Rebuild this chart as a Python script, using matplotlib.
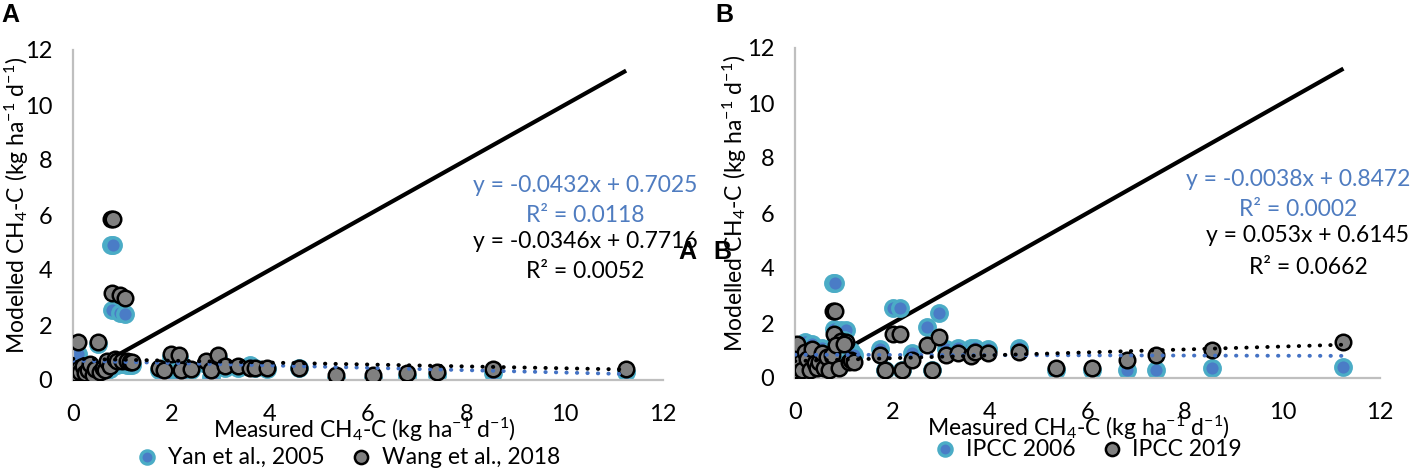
import matplotlib
matplotlib.use("Agg")
import matplotlib.pyplot as plt
import numpy as np

plt.rcParams['font.family'] = ['Lato', 'DejaVu Sans']
plt.rcParams['mathtext.fontset'] = 'custom'
plt.rcParams['mathtext.rm'] = 'Lato'
plt.rcParams['mathtext.it'] = 'Lato:italic'
plt.rcParams['mathtext.bf'] = 'Lato:bold'

# measured CH4-C (shared by both panels)
measured = [0.00, 0.03, 0.05, 0.10, 0.12, 0.15, 0.20, 0.25, 0.30, 0.35,
            0.40, 0.45, 0.50, 0.55, 0.60, 0.65, 0.70, 0.75, 0.78, 0.82,
            0.80, 0.95, 1.05, 0.85, 0.90, 1.00, 1.10, 1.15, 1.20, 1.75,
            1.85, 2.00, 2.15, 2.20, 2.40, 2.70, 2.80, 2.95, 3.10, 3.35,
            3.60, 3.70, 3.95, 4.60, 5.35, 6.10, 6.80, 7.40, 8.55, 11.25]
yan2005 = [0.25, 0.30, 0.20, 0.95, 0.35, 0.25, 0.40, 0.20, 0.30, 0.45,
           0.15, 0.30, 1.30, 0.25, 0.40, 0.30, 0.55, 0.40, 4.90, 4.90,
           2.55, 2.45, 2.40, 0.60, 0.55, 0.60, 0.55, 0.55, 0.55, 0.35,
           0.15, 0.85, 0.80, 0.15, 0.35, 0.60, 0.10, 0.80, 0.45, 0.45,
           0.55, 0.45, 0.40, 0.45, 0.05, 0.05, 0.15, 0.20, 0.25, 0.30]
wang2018 = [0.30, 0.40, 0.25, 1.40, 0.45, 0.30, 0.50, 0.25, 0.35, 0.60,
            0.20, 0.40, 1.40, 0.30, 0.45, 0.35, 0.70, 0.50, 5.85, 5.85,
            3.15, 3.10, 3.00, 0.75, 0.70, 0.70, 0.70, 0.65, 0.65, 0.45,
            0.35, 0.95, 0.90, 0.35, 0.40, 0.70, 0.35, 0.90, 0.50, 0.50,
            0.45, 0.45, 0.45, 0.45, 0.20, 0.20, 0.25, 0.30, 0.40, 0.40]
ipcc2006 = [0.20, 0.50, 0.25, 0.30, 0.80, 0.20, 1.30, 0.90, 0.30, 1.25,
            0.70, 0.35, 0.80, 1.10, 0.40, 0.90, 0.35, 1.00, 3.45, 3.45,
            1.80, 1.75, 1.75, 1.45, 0.40, 1.40, 0.65, 1.00, 0.85, 1.05,
            0.30, 2.55, 2.55, 0.30, 0.90, 1.85, 0.30, 2.35, 1.05, 1.10,
            1.10, 1.10, 1.05, 1.10, 0.30, 0.30, 0.30, 0.30, 0.36, 0.40]
ipcc2019 = [0.30, 0.75, 1.25, 0.35, 0.60, 0.30, 0.95, 0.70, 0.30, 1.05,
            0.55, 0.35, 0.60, 0.90, 0.35, 0.75, 0.30, 0.85, 2.45, 2.45,
            1.60, 1.35, 1.30, 1.20, 0.35, 1.25, 0.60, 0.65, 0.60, 0.85,
            0.30, 1.60, 1.60, 0.30, 0.65, 1.20, 0.30, 1.50, 0.85, 0.90,
            0.80, 0.95, 0.90, 0.95, 0.35, 0.35, 0.65, 0.84, 1.02, 1.30]

# trendline coefficients as printed on the chart (slope, intercept, r2)
trend_a_blue = (-0.0432, 0.7025, 0.0118)
trend_a_black = (-0.0346, 0.7716, 0.0052)
trend_b_blue = (-0.0038, 0.8472, 0.0002)
trend_b_black = (0.053, 0.6145, 0.0662)
one_to_one = [0, 11.25]

W, H = 1418, 472
BLUE_FACE = '#4a7cc6'
BLUE_EDGE = '#4bacc6'
BLUE_TXT = '#4f7cc0'
FS = 17


def px(x, y):
    return x / W, 1 - y / H


fig = plt.figure(figsize=(W / 100, H / 100), dpi=100)
ax1 = fig.add_axes([73 / W, 92 / H, 590 / W, 330 / H])
ax2 = fig.add_axes([795 / W, 94 / H, 585 / W, 330 / H])


def fmt_eq(slope, inter):
    sign = '+' if inter >= 0 else '-'
    return 'y = {}x {} {}'.format(slope, sign, abs(inter))


def draw_panel(ax, ys_blue, ys_gray, tb, tk, lab_blue, lab_gray):
    ax.plot(one_to_one, one_to_one, color='black', lw=3, zorder=1,
            solid_capstyle='butt')
    sb = ax.scatter(measured, ys_blue, s=125, facecolor=BLUE_FACE,
                    edgecolor=BLUE_EDGE, linewidth=2.4, zorder=2, label=lab_blue)
    sg = ax.scatter(measured, ys_gray, s=125, facecolor='#808080',
                    edgecolor='black', linewidth=1.8, zorder=3, label=lab_gray)
    xr = np.array([min(measured), max(measured)])
    ax.plot(xr, tb[0] * xr + tb[1], color='#4472c4', lw=2.8,
            ls=(0, (0.1, 2.6)), dash_capstyle='round', zorder=4)
    ax.plot(xr, tk[0] * xr + tk[1], color='black', lw=2.8,
            ls=(0, (0.1, 2.6)), dash_capstyle='round', zorder=4)
    ax.set_xlim(0, 12)
    ax.set_ylim(0, 12)
    ax.set_xticks(range(0, 13, 2))
    ax.set_yticks(range(0, 13, 2))
    for s in ['top', 'right']:
        ax.spines[s].set_visible(False)
    for s in ['left', 'bottom']:
        ax.spines[s].set_color('#bfbfbf')
        ax.spines[s].set_linewidth(1.6)
    ax.tick_params(axis='x', length=0, pad=17, labelsize=FS)
    ax.tick_params(axis='y', length=0, pad=15, labelsize=FS)
    ax.set_facecolor('none')
    return sb, sg


ylab = 'Modelled CH$_4$-C (kg ha$^{-1}$ d$^{-1}$)'
xlab = 'Measured CH$_4$-C (kg ha$^{-1}$ d$^{-1}$)'

# panel A
hA = draw_panel(ax1, yan2005, wang2018, trend_a_blue, trend_a_black,
                'Yan et al., 2005', 'Wang et al., 2018')
# panel B
hB = draw_panel(ax2, ipcc2006, ipcc2019, trend_b_blue, trend_b_black,
                'IPCC 2006', 'IPCC 2019')

fig.text(*px(17, 205), ylab, rotation=90, ha='center', va='center', fontsize=16.5)
fig.text(*px(735, 203), ylab, rotation=90, ha='center', va='center', fontsize=16.5)
fig.text(*px(364, 430), xlab, ha='center', va='center', fontsize=16.5)
fig.text(*px(1078, 428), xlab, ha='center', va='center', fontsize=16.5)

# trendline labels
for (cx, cy, t, col) in [
        (585, 185, fmt_eq(*trend_a_blue[:2]), BLUE_TXT),
        (585, 215, 'R² = {:.4f}'.format(trend_a_blue[2]), BLUE_TXT),
        (585, 242, fmt_eq(*trend_a_black[:2]), 'black'),
        (585, 271, 'R² = {:.4f}'.format(trend_a_black[2]), 'black'),
        (1298, 179, fmt_eq(*trend_b_blue[:2]), BLUE_TXT),
        (1298, 210, 'R² = {:.4f}'.format(trend_b_blue[2]), BLUE_TXT),
        (1308, 236, fmt_eq(*trend_b_black[:2]), 'black'),
        (1308, 267, 'R² = {:.4f}'.format(trend_b_black[2]), 'black')]:
    fig.text(*px(cx, cy), t, ha='center', va='center', fontsize=16.5, color=col)

# panel letters
for (x, y, t) in [(10, 15, 'A'), (724, 15, 'B'), (687, 252, 'A'), (722, 252, 'B')]:
    fig.text(*px(x, y), t, ha='center', va='center', fontsize=18,
             fontweight='bold', family='Liberation Sans')

fig.legend(handles=list(hA), loc='center', bbox_to_anchor=px(342, 457),
           ncol=2, frameon=False, fontsize=16.5, handletextpad=-0.1,
           columnspacing=0.6, markerscale=0.85, borderpad=0)
fig.legend(handles=list(hB), loc='center', bbox_to_anchor=px(1082, 449),
           ncol=2, frameon=False, fontsize=16.5, handletextpad=-0.1,
           columnspacing=0.6, markerscale=0.85, borderpad=0)

fig.savefig('out.png', dpi=100)
